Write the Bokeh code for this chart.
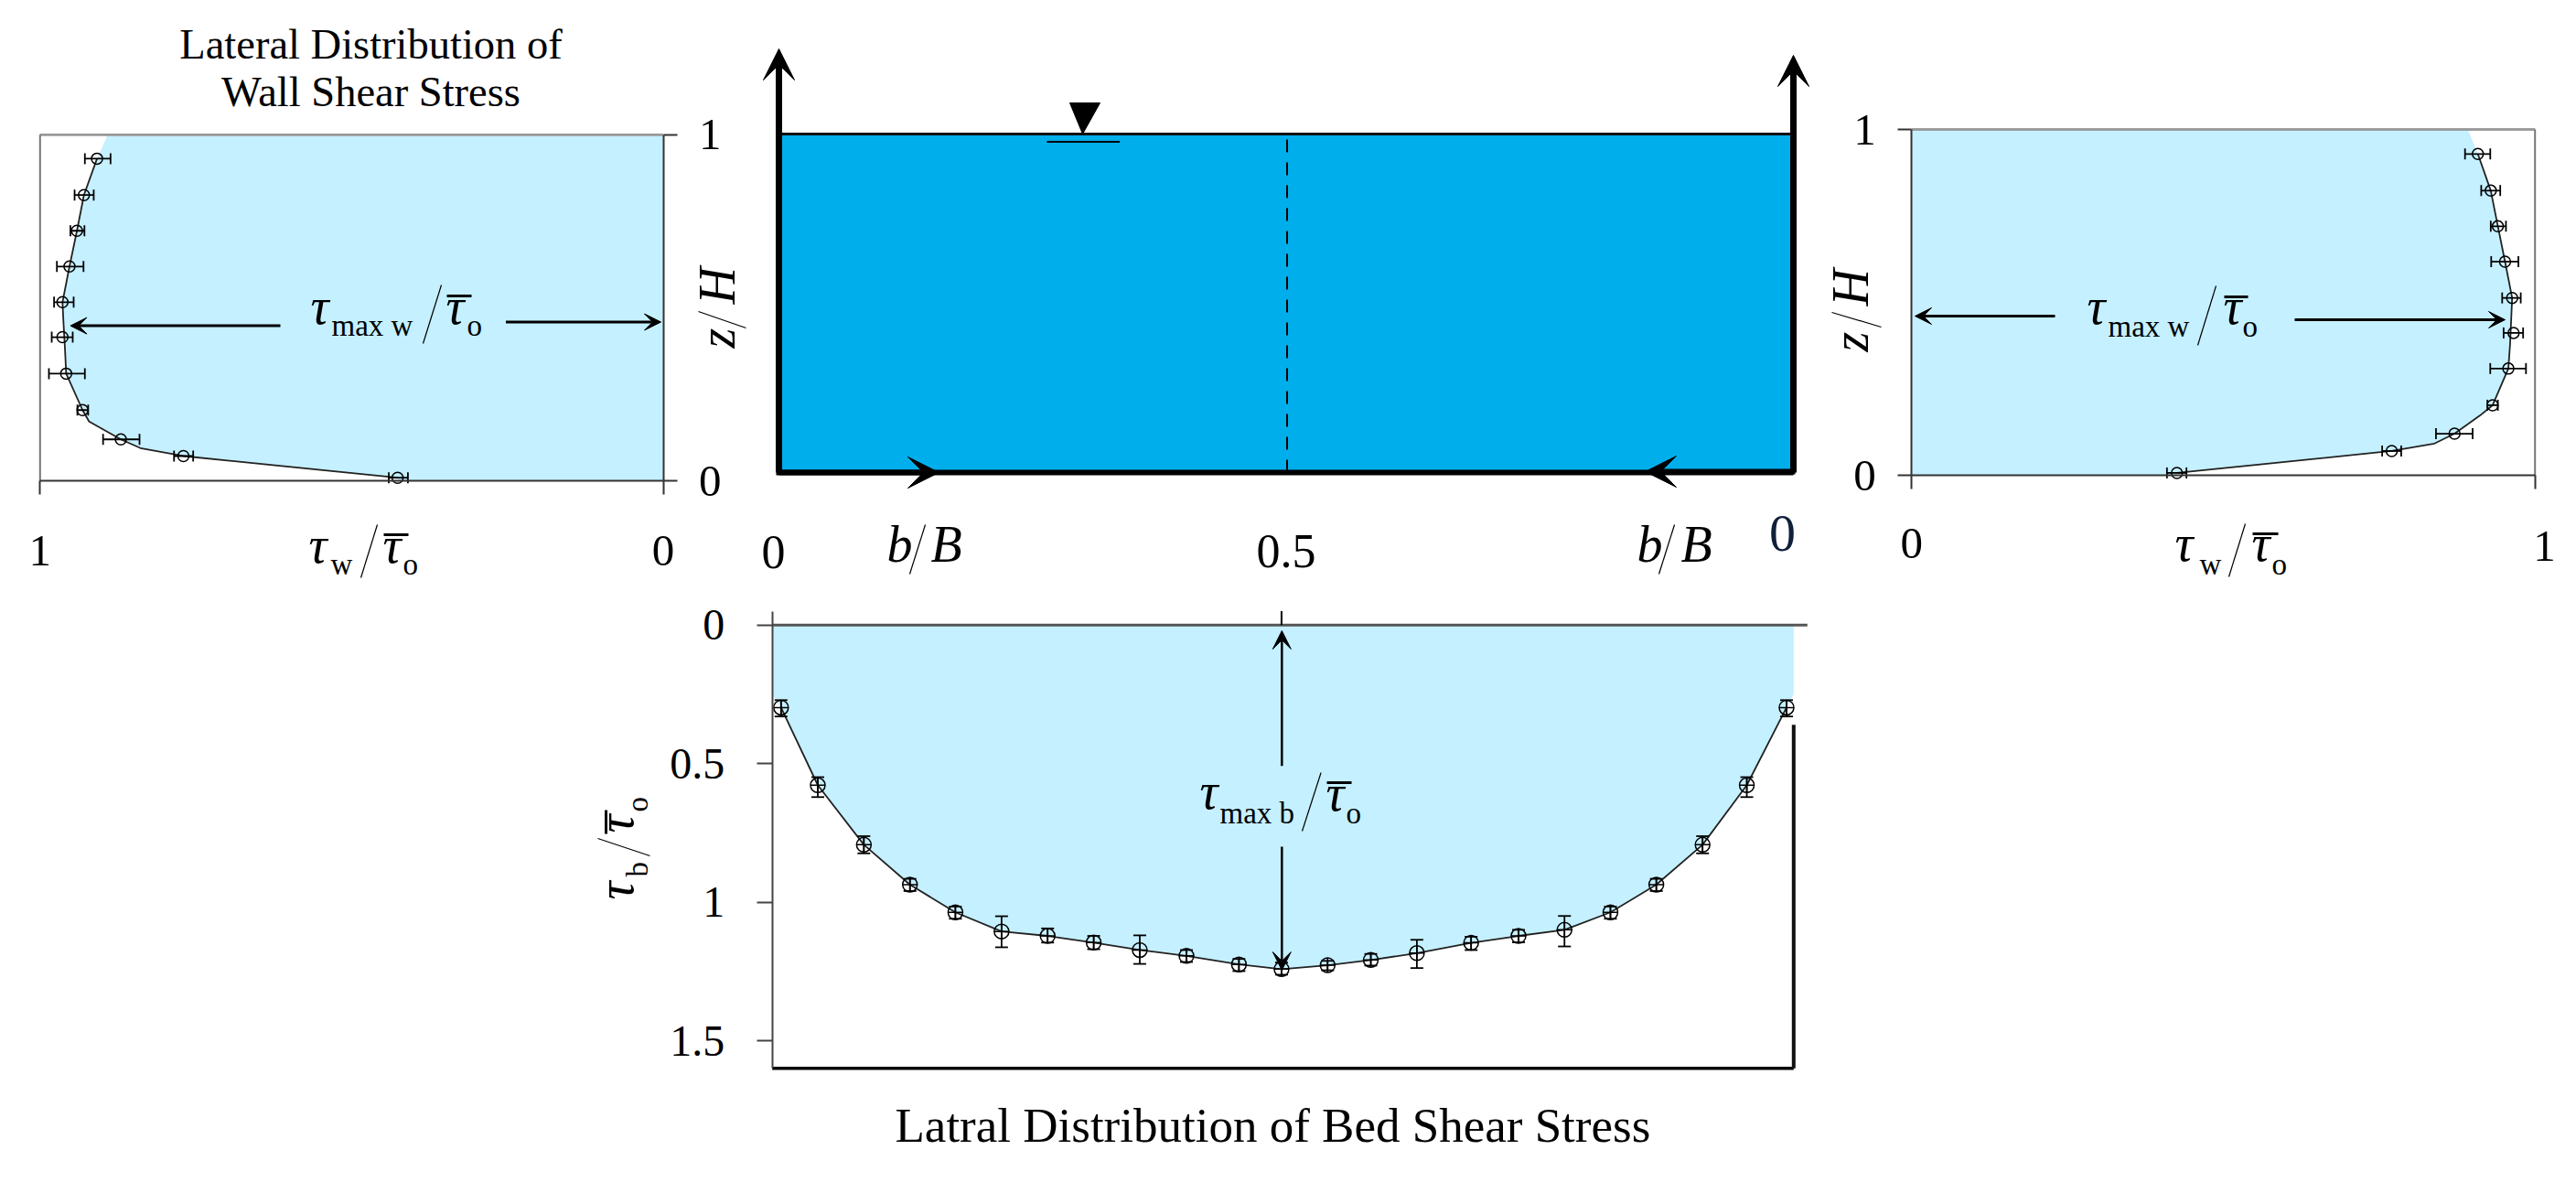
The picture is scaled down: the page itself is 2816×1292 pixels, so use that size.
from math import pi
from bokeh.plotting import figure
from bokeh.layouts import column, row
from bokeh.embed import file_html
from bokeh.resources import INLINE
from bokeh.models import Range1d, LinearAxis, FixedTicker, Label, Arrow, VeeHead

# ---- data ----
left_z    = [.9308, .8255, .7223, .6191, .5159, .4149, .3096, .2042, .1196, .0714, .0088]
left_val  = [.9086, .9296, .9408, .9528, .9640, .9640, .9581, .9318, .8704, .7700, .4262]
left_lo   = [.8869, .9139, .9288, .9303, .9461, .9476, .9281, .9228, .8404, .7543, .4097]
left_hi   = [.9281, .9446, .9513, .9730, .9775, .9813, .9858, .9401, .8989, .7850, .4404]
left_curve_z = [.9308, .8255, .7223, .6191, .5159, .4600, .3800, .3096, .2042, .1710, .1196, .0944, .0714, .0088]
left_curve_v = [.9086, .9296, .9408, .9528, .9640, .9625, .9600, .9581, .9318, .9213, .8704, .8390, .7700, .4262]
left_top_val, left_bottom_val = .8914, .4262

right_z   = [.9291, .8233, .7202, .6181, .5132, .4121, .3091, .2032, .1210, .0709, .0076]
right_val = [.9083, .9290, .9404, .9519, .9633, .9656, .9572, .9320, .8709, .7701, .4255]
right_lo  = [.8877, .9137, .9290, .9297, .9473, .9496, .9282, .9236, .8411, .7548, .4095]
right_hi  = [.9282, .9442, .9534, .9733, .9771, .9809, .9855, .9404, .8999, .7853, .4408]
right_curve_z = [.9291, .8233, .7202, .6181, .5132, .4600, .3800, .3091, .2032, .1730, .1210, .0926, .0709, .0076]
right_curve_v = [.9083, .9290, .9404, .9519, .9633, .9620, .9600, .9572, .9320, .9114, .8709, .8388, .7701, .4255]
right_top_val, right_bottom_val = .8923, .4255

bed_b   = [.0086, .0446, .0897, .1348, .1793, .2245, .2696, .3147, .3598, .4055, .4569, .4986,
           .5437, .5860, .6311, .6842, .7306, .7756, .8206, .8655, .9108, .9541, .9930]
bed_tau = [.298, .578, .793, .937, 1.037, 1.106, 1.122, 1.146, 1.173, 1.194, 1.225, 1.242,
           1.228, 1.209, 1.184, 1.147, 1.122, 1.100, 1.037, .937, .793, .578, .298]
bed_lo  = [.271, .549, .762, .916, 1.016, 1.051, 1.095, 1.122, 1.120, 1.173, 1.205, 1.218,
           1.212, 1.187, 1.136, 1.125, 1.100, 1.050, 1.016, .916, .762, .549, .271]
bed_hi  = [.330, .621, .824, .960, 1.060, 1.163, 1.146, 1.170, 1.223, 1.216, 1.249, 1.262,
           1.246, 1.229, 1.238, 1.173, 1.145, 1.160, 1.060, .960, .824, .621, .330]
bed_edge_tau = .25

wall_ticks = [0, 1]
bed_ticks = [0, 0.5, 1, 1.5]
channel_ticks = [0, 0.5]
centre_b = .5009

LIGHT = "#C5F0FF"
WATER = "#00AEEB"
SERIF = "Liberation Serif"


class Panel:
    """A figure whose canvas sits at a page box; values are calibrated at two page points."""
    def __init__(self, box, xcal, ycal):
        X0, Y0, X1, Y1 = box
        (self.ax, self.av, self.bx, self.bv) = xcal
        (self.ay, self.aw, self.by, self.bw) = ycal
        self.f = figure(width=X1 - X0, height=Y1 - Y0,
                        x_range=Range1d(self.vx(X0), self.vx(X1)),
                        y_range=Range1d(self.vy(Y1), self.vy(Y0)),
                        x_axis_location=None, y_axis_location=None,
                        min_border=0, outline_line_color=None,
                        output_backend="svg", toolbar_location=None)
        self.f.grid.visible = False

    def vx(self, px):
        return self.av + (px - self.ax) * (self.bv - self.av) / (self.bx - self.ax)

    def vy(self, py):
        return self.aw + (py - self.ay) * (self.bw - self.aw) / (self.by - self.ay)

    def text(self, x, y, s, size, style="normal", align="left", angle=0, color="black"):
        # page position of the glyph baseline: the label is anchored about .36 em off it
        if angle:
            x -= .38 * size
        else:
            y -= .36 * size
        self.f.add_layout(Label(x=self.vx(x), y=self.vy(y), text=s, text_font=SERIF,
                                text_font_size=f"{size}px", text_font_style=style,
                                text_align=align, text_baseline="alphabetic",
                                angle=angle, text_color=color))

    def seg(self, x0, y0, x1, y1, w=1.2, color="black"):
        self.f.segment([self.vx(x0)], [self.vy(y0)], [self.vx(x1)], [self.vy(y1)],
                       line_width=w, line_color=color)

    def arrow(self, x0, y0, x1, y1, w=3, size=18):
        self.f.add_layout(Arrow(end=VeeHead(size=size, fill_color="black", line_color="black", line_width=1),
                                x_start=self.vx(x0), y_start=self.vy(y0),
                                x_end=self.vx(x1), y_end=self.vy(y1),
                                line_width=w, line_color="black"))


def axis(ticks, size, tick_out, standoff, loc, bounds=None, show_line=True, color="#333333", lw=2, hide=None):
    a = LinearAxis(ticker=FixedTicker(ticks=ticks), fixed_location=loc,
                   major_label_text_font=SERIF, major_label_text_font_size=f"{size}px",
                   major_label_text_color="black", major_label_standoff=standoff,
                   major_tick_out=tick_out, major_tick_in=0, minor_tick_line_color=None,
                   major_tick_line_color=color if tick_out else None, major_tick_line_width=lw,
                   axis_line_color=color if show_line else None, axis_line_width=lw)
    if bounds:
        a.bounds = bounds
    if hide is not None:
        a.major_label_overrides = {hide: ""}
    return a


def errorbars(p, x, y, lo, hi, horizontal, cap, d, marker):
    if horizontal:
        p.f.segment(lo, y, hi, y, line_color="black", line_width=1.8)
        p.f.scatter(lo + hi, y + y, marker="dash", angle=pi / 2, size=cap, line_color="black", line_width=1.8)
    else:
        p.f.segment(x, lo, x, hi, line_color="black", line_width=1.8)
        p.f.scatter(x + x, lo + hi, marker="dash", size=cap, line_color="black", line_width=1.8)
    p.f.scatter(x, y, marker=marker, size=d, fill_color=None, line_color="black", line_width=1.5)


def wall_panel(p, vals, zs, lo, hi, curve_v, curve_z, top_val, bottom_val, yside, xstand, ystand, hide=None):
    fill_z = [0] + curve_z[::-1] + [1]
    fill_v = [bottom_val] + curve_v[::-1] + [top_val]
    p.f.harea(y=fill_z, x1=[0] * len(fill_z), x2=fill_v, fill_color=LIGHT)
    p.f.line(curve_v, curve_z, line_color="#222222", line_width=1.8)
    errorbars(p, vals, zs, lo, hi, True, 12, 12, "circle")
    p.f.segment([1, 0], [1, 1], [0, 1], [1, 1], line_color="#999999", line_width=2.5)
    p.f.segment([1], [0], [1], [1], line_color="#777777", line_width=2)
    p.f.add_layout(axis(wall_ticks, 49, 15, xstand, 0, (0, 1), hide=hide), "below")
    p.f.add_layout(axis(wall_ticks, 49, 15, ystand, 0, (0, 1)), yside)


def ratio(p, tx, tb, sub, sx, sb, sl, bar, dx, db, ox, tsize=56, ssize=33):
    p.text(tx, tb, "τ", tsize, "italic")
    p.text(sx, sb, sub, ssize)
    p.seg(*sl)
    p.seg(bar[0], bar[2] - 3, bar[1], bar[2] - 3, w=3)
    p.text(dx, db, "τ", tsize, "italic")
    p.text(ox, sb, "o", ssize)


def z_over_h(p, base_x, z_y, h_y, sl):
    p.text(base_x, z_y, "z", 56, "italic", angle=pi / 2)
    p.text(base_x, h_y, "H", 56, "italic", angle=pi / 2)
    p.seg(*sl)


# ---- left wall panel ----
L = Panel((0, 0, 830, 645), (43.3, 1, 724.5, 0), (525, 0, 146.7, 1))
wall_panel(L, left_val, left_z, left_lo, left_hi, left_curve_v, left_curve_z,
           left_top_val, left_bottom_val, "right", 45, 24)
L.text(405, 65, "Lateral Distribution of", 46.5, align="center")
L.text(405, 117, "Wall Shear Stress", 46.5, align="center")
L.arrow(306, 355.6, 76.5, 355.6)
L.arrow(552.5, 351.5, 722, 351.5)
ratio(L, 339, 355, "max w", 362, 367, (482, 311, 462, 375), (488, 515, 326), 487, 355, 510)
ratio(L, 337, 616, "w", 361, 628, (412, 573, 394, 631), (419, 446, 587), 418, 616, 440)
z_over_h(L, 805, 380, 332, (763, 340, 815, 358))

# ---- channel cross-section ----
C = Panel((830, 0, 1990, 645), (851, 0, 1960, 1), (516, 0, 146, 1))
C.f.quad(left=[0], right=[1], bottom=[0], top=[1], fill_color=WATER, line_color=None)
C.f.segment([0], [1], [1], [1], line_color="#111111", line_width=3)
C.f.segment([0], [0], [1], [0], line_color="black", line_width=6)
C.f.line([centre_b, centre_b], [0, 1], line_color="black", line_width=2, line_dash=[14, 11])
C.f.add_layout(axis(channel_ticks, 52, 0, 68, 0, show_line=False, hide=0), "below")
C.text(845, 622, "0", 52, align="center")
C.arrow(851, 516, 851, 53, w=7, size=34)
C.arrow(1960, 516, 1960, 60, w=7, size=34)
C.arrow(848, 516, 1026, 516, w=6, size=34)
C.arrow(1962, 515, 1798, 515, w=6, size=34)
C.f.patch([C.vx(1169), C.vx(1202), C.vx(1183)], [C.vy(112), C.vy(112), C.vy(146)],
          fill_color="black", line_color="black")
C.f.segment([C.vx(1144)], [C.vy(154.5)], [C.vx(1223.6)], [C.vy(154.5)], line_color="black", line_width=2)
C.text(969, 615, "b", 56, "italic")
C.seg(1011, 573, 994, 627)
C.text(1017, 615, "B", 56, "italic")
C.text(1789, 615, "b", 56, "italic")
C.seg(1830, 573, 1813, 627)
C.text(1837, 615, "B", 56, "italic")
C.text(1948, 603, "0", 58, align="center", color="#10203a")

# ---- right wall panel ----
R = Panel((1990, 0, 2808, 645), (2089.3, 0, 2770.7, 1), (519.3, 0, 141, 1))
wall_panel(R, right_val, right_z, right_lo, right_hi, right_curve_v, right_curve_z,
           right_top_val, right_bottom_val, "left", 43, 24, hide=1)
R.text(2781, 614, "1", 49, align="center")
R.arrow(2246, 345, 2093, 345)
R.arrow(2508, 349, 2738, 349)
ratio(R, 2281, 355, "max w", 2304, 368, (2422, 312, 2402, 377), (2431, 2457, 327), 2430, 355, 2451)
ratio(R, 2377, 614, "w", 2404, 628, (2454, 572, 2436, 630), (2462, 2490, 586), 2461, 614, 2483)
z_over_h(R, 2044, 384, 334, (2002, 341, 2056, 357))

# ---- bed panel ----
B = Panel((0, 645, 2808, 1276), (843.7, 0, 1960.3, 1), (682.7, 0, 1137, 1.5))
fill_b = [0] + bed_b + [1]
fill_tau = [bed_edge_tau] + bed_tau + [bed_edge_tau]
B.f.varea(x=fill_b, y1=[0] * len(fill_b), y2=fill_tau, fill_color=LIGHT)
B.f.line(bed_b, bed_tau, line_color="#222222", line_width=1.8)
errorbars(B, bed_b, bed_tau, bed_lo, bed_hi, False, 14, 16, "circle_cross")
B.f.segment([0, 0, 1, bed_b[11]], [0, 1.6, .36, -.05], [1.0134, 1, 1, bed_b[11]], [0, 1.6, 1.6, 0],
            line_color=["#555555", "black", "#111111", "black"], line_width=[3, 3.5, 4, 2])
B.f.add_layout(axis(bed_ticks, 48, 17, 35, 0, (-.05, 1.6), color="#444444"), "left")
B.arrow(1400.8, 836.7, 1400.8, 689, w=2.5, size=20)
B.arrow(1400.8, 925, 1400.8, 1060, w=2.5, size=20)
ratio(B, 1311, 885, "max b", 1333, 900, (1443.6, 844, 1423, 908), (1450, 1477, 858), 1449, 887, 1471)
B.text(978, 1249, "Latral Distribution of  Bed Shear Stress", 53)
# rotated tau_b / tau_o
B.text(694, 983, "τ", 56, "italic", angle=pi / 2)
B.text(709, 958, "b", 33, angle=pi / 2)
B.seg(653, 916, 710, 935)
B.seg(662, 885, 662, 911, w=3)
B.text(694, 910, "τ", 56, "italic", angle=pi / 2)
B.text(709, 887, "o", 33, angle=pi / 2)

page = column(row(L.f, C.f, R.f), B.f)
open("out.html", "w").write(file_html(page, INLINE))
